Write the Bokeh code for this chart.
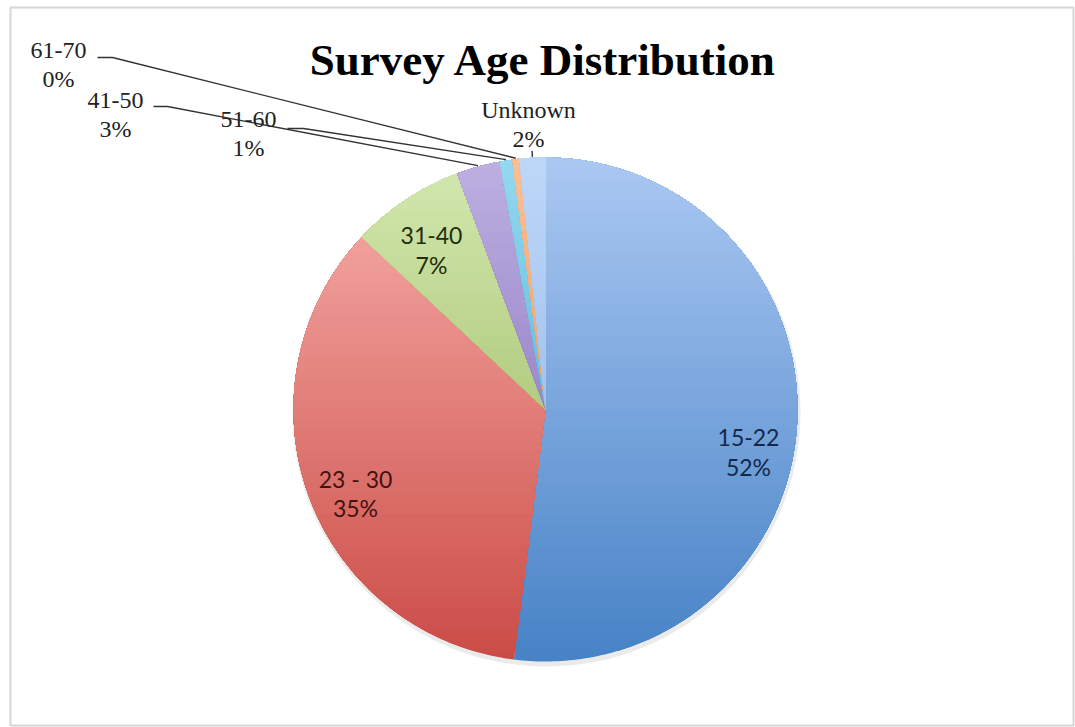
import numpy as np
from bokeh.plotting import figure
from bokeh.models import Range1d
from bokeh.core.properties import value
from bokeh.embed import file_html
from bokeh.resources import INLINE

# ---------------- data ----------------
TITLE = "Survey Age Distribution"
age_groups = ["15-22", "23 - 30", "31-40", "41-50", "51-60", "61-70", "Unknown"]
shares = [52.0, 35.0, 7.3, 2.8, 0.8, 0.45, 1.65]

# ---------------- style / layout ----------------
# colour at top of pie / at bottom of pie (vertical gradient)
top_colors = ["#abc8f2", "#f8b0ac", "#d4e8b0", "#bdb0e2", "#95d8f0", "#fac097", "#bed7f8"]
bottom_colors = ["#4682c6", "#cb4b45", "#8fb04f", "#785db0", "#2fa4ce", "#e8833a", "#86ade4"]
label_colors = ["#14284a", "#431210", "#222d0c", "#222222", "#222222", "#222222", "#222222"]
inside = [True, True, True, False, False, False, False]
# label anchor: centre x, baseline of first line (screen px)
label_x = [748, 355, 431, 115, 248, 58, 528]
label_base = [445, 486, 243, 108, 127, 58, 118]
LINE_GAP = 29
# elbow of leader lines (screen px) for outside labels
elbow = {3: [(153, 106), (167, 106)], 4: [(287, 128), (303, 128)], 5: [(97, 57), (112, 57)]}
BASE_SHIFT = 0.34  # renderer baseline correction, in em

W, H = 1075, 727


def sy(y):
    return H - y


def hex2rgb(h):
    h = h.lstrip("#")
    return np.array([int(h[i:i + 2], 16) for i in (0, 2, 4)], dtype=float)


def rgb2hex(c):
    c = np.clip(np.round(c), 0, 255).astype(int)
    return "#%02x%02x%02x" % tuple(c)


def clip_above(xs, ys, y0):
    """Clip polygon to half-plane y >= y0 (Sutherland-Hodgman)."""
    ox, oy = [], []
    n = len(xs)
    for i in range(n):
        x1, y1 = xs[i], ys[i]
        x2, y2 = xs[(i + 1) % n], ys[(i + 1) % n]
        in1, in2 = y1 >= y0, y2 >= y0
        if in1:
            ox.append(x1); oy.append(y1)
        if in1 != in2:
            t = (y0 - y1) / (y2 - y1)
            ox.append(x1 + t * (x2 - x1)); oy.append(y0)
    return ox, oy


cx, cy, R = 545, sy(409), 252

fr = np.array(shares) / sum(shares)
cum = np.concatenate([[0.0], np.cumsum(fr)])
start = np.pi / 2 - 2 * np.pi * cum[:-1]
end = np.pi / 2 - 2 * np.pi * cum[1:]
mid = (start + end) / 2

p = figure(width=W, height=H, x_range=Range1d(0, W), y_range=Range1d(0, H),
           output_backend="svg", toolbar_location=None, min_border=0,
           x_axis_location=None, y_axis_location=None)
p.grid.visible = False
p.outline_line_color = None
p.background_fill_color = "white"
p.border_fill_color = "white"

# frame
p.quad(left=[10], right=[1073], top=[sy(7)], bottom=[sy(725)], fill_color=None,
       line_color="#d6d6d6", line_width=2)

# faint shadow under pie
p.circle(x=[cx + 1], y=[cy - 3], radius=R + 2, fill_color="#b0b0b0", fill_alpha=0.25, line_color=None)

# pie slices with stepped vertical gradient (nested, opaque)
NB = 48
bot = cy - R
pxs, pys, pcols = [], [], []
for i in range(len(shares)):
    n_arc = max(4, int(abs(end[i] - start[i]) / (2 * np.pi) * 400))
    t = np.linspace(start[i], end[i], n_arc)
    wx = [cx] + list(cx + R * np.cos(t))
    wy = [cy] + list(cy + R * np.sin(t))
    ct, cb = hex2rgb(top_colors[i]), hex2rgb(bottom_colors[i])
    for k in range(NB):
        y0 = bot + 2 * R * k / NB
        cxs, cys = clip_above(wx, wy, y0)
        if len(cxs) < 3:
            continue
        f = (k + 0.5) / NB
        pxs.append(cxs); pys.append(cys)
        pcols.append(rgb2hex(cb + (ct - cb) * f))
p.patches(pxs, pys, fill_color=pcols, line_color=None)

# leader lines
lx, ly = [], []
for i, pts in elbow.items():
    ax = cx + (R + 1) * np.cos(mid[i])
    ay = cy + (R + 1) * np.sin(mid[i])
    lx.append([pts[0][0], pts[1][0], ax])
    ly.append([sy(pts[0][1]), sy(pts[1][1]), ay])
ui = 6
lx.append([cx + (R + 1) * np.cos(mid[ui]), cx + (R + 7) * np.cos(mid[ui])])
ly.append([cy + (R + 1) * np.sin(mid[ui]), cy + (R + 7) * np.sin(mid[ui])])
p.multi_line(lx, ly, line_color="#333333", line_width=1.4)

# labels
pct_text = [f"{round(s)}%" for s in shares]
for i, name in enumerate(age_groups):
    if inside[i]:
        font, size = "Lato", 23
    else:
        font, size = "Liberation Serif", 24
    b = label_base[i] - BASE_SHIFT * size
    p.text(x=[label_x[i], label_x[i]], y=[sy(b), sy(b + LINE_GAP)],
           text=[name, pct_text[i]], text_align="center", text_baseline="alphabetic",
           text_font=value(font), text_font_size=f"{size}px",
           text_color=label_colors[i])

# title
tsize = 45
p.text(x=[543], y=[sy(75 - BASE_SHIFT * tsize)], text=[TITLE], text_align="center",
       text_baseline="alphabetic", text_font=value("Liberation Serif"),
       text_font_size=f"{tsize}px", text_font_style="bold", text_color="#000000")

open("out.html", "w").write(file_html(p, INLINE))
